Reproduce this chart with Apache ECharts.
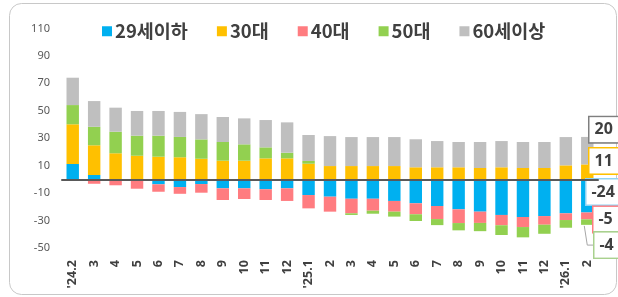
<!DOCTYPE html>
<html>
<head>
<meta charset="utf-8">
<script src="https://cdn.jsdelivr.net/npm/echarts@6/dist/echarts.min.js"></script>
<style>
html,body{margin:0;padding:0;background:#fff;}
#c{width:618px;height:297px;}
</style>
</head>
<body>
<div id="c"></div>
<script>
const categories = ["'24.2","3","4","5","6","7","8","9","10","11","12","'25.1","2","3","4","5","6","7","8","9","10","11","12","'26.1","2"];
const seriesNames = ["29세이하","30대","40대","50대","60세이상"];
const under29 = [11.3,3.3,0,0,-3.5,-5.5,-3.3,-6.4,-6.4,-7.1,-6.4,-11.3,-12.5,-14,-14,-15.6,-17.3,-19.3,-21.7,-23.4,-25.8,-27.3,-26.6,-24.6,-24];
const age30s = [28.9,21.6,19.1,17.3,16.6,16.2,15.1,13.7,13.7,15.4,15.4,11.5,9.8,9.8,9.8,9.8,8.9,8.9,8.9,8.4,8.9,8.4,8.4,10.3,11];
const age40s = [-1,-3.1,-4.2,-6.7,-5.4,-4.9,-6.3,-8.5,-7.8,-7.8,-9.2,-9.7,-10.9,-10.6,-8.7,-7.8,-8,-9.5,-10,-8.2,-7.5,-7.3,-6.3,-4.9,-5];
const age50s = [14,13.5,15.7,14.6,15.3,14.8,14.1,13.6,11.9,8,4.1,2,0,-1.2,-2.2,-3.6,-4.9,-4.4,-5.3,-6,-7.1,-7.5,-6.6,-5.6,-4];
const over60 = [19.9,18.7,17.5,18,18,18.2,18.4,18.2,18.9,19.9,22.1,18.9,21.8,21.1,21.1,21.1,20.4,19.1,18.4,18.9,19.1,18.9,18.9,20.6,20];
const lastLabels = ["-24","11","-5","-4","20"];
const yTicks = [-50,-30,-10,10,30,50,70,90,110];

const colors = ["#00B0F0","#FFC000","#FF7C80","#92D050","#BFBFBF"];
const boxBorders = ["#8fd3f3","#FFC000","#FF7C80","#A9D18E","#7f7f7f"];
const labelOffsets = [[0,-4],[0,-11],[0,3.5],[0,23],[0,-21]];
const labelDist = [-7,-4,0,1,-4];
const allData = [under29, age30s, age40s, age50s, over60];

const series = allData.map((arr, si) => {
  const last = arr.length - 1;
  const data = arr.map((v, i) => {
    if (i !== last) return v;
    return {
      value: v,
      label: {
        show: true,
        position: 'right',
        distance: labelDist[si],
        offset: labelOffsets[si],
        formatter: lastLabels[si],
        fontSize: 16,
        fontWeight: 'bold',
        fontFamily: 'Noto Sans',
        color: '#404040',
        backgroundColor: '#fff',
        borderColor: boxBorders[si],
        borderWidth: 1.5,
        padding: [3, 6, 2, 5],
        lineHeight: 20
      }
    };
  });
  return {
    name: seriesNames[si],
    type: 'bar',
    stack: 'total',
    barWidth: '58%',
    itemStyle: { color: colors[si] },
    data: data,
    animation: false
  };
});

const chart = echarts.init(document.getElementById('c'));
chart.setOption({
  animation: false,
  color: colors,
  legend: {
    data: seriesNames,
    left: 97,
    top: 17,
    itemWidth: 10,
    itemHeight: 10,
    itemGap: 29,
    icon: 'rect',
    textStyle: { fontSize: 18.5, fontWeight: 'bold', color: '#404040', fontFamily: 'Noto Sans CJK KR', padding: [0,0,0,-2] }
  },
  grid: { left: 62, right: 20, top: 28.4, bottom: 48.8 },
  xAxis: {
    type: 'category',
    data: categories,
    z: 10,
    axisLine: { onZero: true, lineStyle: { color: '#595959', width: 2 } },
    axisTick: { show: false },
    axisLabel: {
      rotate: 90,
      interval: 0,
      margin: 12,
      fontSize: 12.5,
      fontWeight: 'bold',
      color: '#404040',
      fontFamily: 'Noto Sans'
    }
  },
  yAxis: {
    type: 'value',
    min: -50,
    max: 110,
    interval: 10,
    splitLine: { show: false },
    axisLine: { show: false },
    axisTick: { show: false },
    axisLabel: {
      margin: 12,
      fontSize: 11,
      color: '#595959',
      fontFamily: 'Noto Sans',
      formatter: v => yTicks.indexOf(v) >= 0 ? String(v) : ''
    }
  },
  series: series
});

// leader line for the last 50대 label, positioned through the chart's own scales
const lastIdx = categories.length - 1;
const stackBottom = under29[lastIdx] + age40s[lastIdx] + age50s[lastIdx];
const stackMid = under29[lastIdx] + age40s[lastIdx];
const pBottom = chart.convertToPixel({ xAxisIndex: 0, yAxisIndex: 0 }, [lastIdx, stackBottom]);
const pMid = chart.convertToPixel({ xAxisIndex: 0, yAxisIndex: 0 }, [lastIdx, (stackBottom + stackMid) / 2]);
const labelY = pMid[1] + labelOffsets[3][1];
chart.setOption({
  graphic: [
    {
      type: 'rect',
      shape: { x: 9.5, y: 3.5, width: 607, height: 291, r: 12 },
      style: { fill: 'none', stroke: '#c8c8c8', lineWidth: 1 },
      z: -10
    },
    {
      type: 'polyline',
      shape: { points: [[pBottom[0] - 3, pBottom[1] + 1], [pBottom[0], labelY], [pBottom[0] + 7, labelY]] },
      style: { fill: 'none', stroke: '#a6a6a6', lineWidth: 1 },
      z: 1
    }
  ]
});
</script>
</body>
</html>
